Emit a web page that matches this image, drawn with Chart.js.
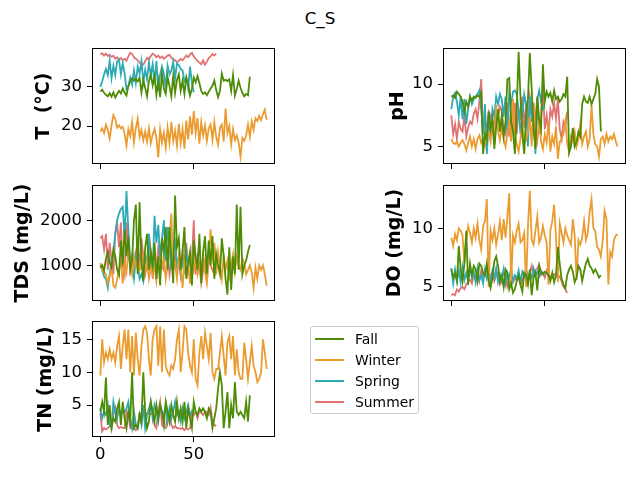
<!DOCTYPE html>
<html>
<head>
<meta charset="utf-8">
<script src="https://cdn.jsdelivr.net/npm/chart.js@4/dist/chart.umd.min.js"></script>
<style>
  body { margin: 0; width: 640px; height: 480px; background: #fff; position: relative; overflow: hidden; font-family: 'DejaVu Sans', sans-serif; }
  canvas { position: absolute; left: 0; top: 0; }
  #title { position: absolute; left: 0; top: 8px; width: 640px; text-align: center; font-size: 16.7px; line-height: 20px; color: #000; }
  #legend { position: absolute; left: 310px; top: 326px; width: 107px; height: 86px; border: 1px solid #cccccc; border-radius: 3px; background: rgba(255,255,255,0.8); }
  .item { position: absolute; left: 0; height: 20px; font-size: 13.9px; line-height: 20px; color: #000; }
  .item span.sw { position: absolute; left: 4px; top: 9px; width: 29px; height: 2px; }
  .item span.tx { position: absolute; left: 44px; top: 0; white-space: nowrap; }
</style>
</head>
<body>
<div id="title">C_S</div>
<canvas id="cT" width="640" height="480"></canvas>
<canvas id="cPH" width="640" height="480"></canvas>
<canvas id="cTDS" width="640" height="480"></canvas>
<canvas id="cDO" width="640" height="480"></canvas>
<canvas id="cTN" width="640" height="480"></canvas>
<div id="legend"></div>
<script>
// seasons and x ticks
const seasons = ['Fall', 'Winter', 'Spring', 'Summer'];
const xTicks = [0, 50];

// T (°C)
const tFall = [28.8, 29.3, 28.5, 28.0, 27.6, 28.4, 27.5, 28.6, 27.3, 28.2, 29.0, 28.3, 29.6, 28.5, 27.8,
  30.2, 31.5, 32.2, 31.6, 32.0, 31.4, 32.3, 28.6, 31.8, 29.8, 27.6,
  31.5, 33.2, 30.4, 32.8, 28.0, 31.6, 27.4, 33.4, 29.5, 28.2, 32.5, 30.2, 27.6, 32.8, 28.5,
  31.8, 33.2, 29.0, 31.5, 28.2, 32.5, 30.8, 27.8, 29.5, 32.4, 31.2, 32.8, 31.0, 29.0, 28.2,
  28.6, 27.9, 28.8, 29.6, 30.3, 31.6, 29.2, 27.4, 29.0, 33.4, 31.6,
  31.8, 31.5, 31.9, 29.0, 33.0, 27.8, 29.5, 31.6, 29.8, 28.5, 27.6, 28.2, 27.9, 32.6];
const tWinter = [18.6, 19.4, 18.2, 20.3, 19.0, 16.8, 20.2, 22.8, 21.8, 19.6,
  20.2, 19.4, 19.8, 18.0, 15.0, 19.2, 17.4, 21.0, 15.8, 19.5,
  21.9, 17.2, 19.0, 16.3, 18.6, 16.0, 19.4, 15.6, 17.8, 19.3,
  17.0, 12.0, 19.2, 15.8, 18.3, 14.5, 19.6, 15.6, 21.0, 16.2,
  18.8, 15.0, 20.6, 15.6, 19.3, 14.2, 21.4, 16.6, 22.5, 17.8,
  23.8, 18.2, 22.0, 15.5, 21.0, 17.6, 20.2, 16.2, 19.4, 20.4,
  16.5, 21.0, 17.2, 15.2, 19.6, 20.4, 16.0, 24.5, 18.2, 20.0,
  15.3, 19.2, 16.4, 17.6, 15.8, 12.2, 17.0, 16.2, 17.6, 20.4,
  17.2, 21.2, 19.0, 22.0, 21.3, 22.6, 21.5, 23.0, 24.2, 21.6];
const tSpring = [30.0, 31.4, 33.2, 34.6, 33.0, 36.8, 32.2, 35.4, 33.0, 36.6,
  37.0, 33.2, 36.0, 33.4, 29.4, 30.2, 32.4, 30.6, 34.2, 31.0,
  35.2, 33.4, 36.6, 31.2, 34.4, 32.0, 36.2, 33.0, 35.8, 30.8,
  36.6, 29.0, 33.2, 35.2, 33.4, 30.0, 35.4, 33.2, 34.2, 36.4,
  32.2, 36.0, 35.6, 34.6, 34.2, 31.4, 32.2, 29.6, 35.2, 31.0, 28.6];
const tSummer = [38.4, 38.6, 38.0, 38.5, 37.9, 38.2, 37.7, 38.0, 37.2, 37.6,
  37.0, 37.4, 36.8, 37.2, 36.7, 37.8, 38.7, 38.4, 37.6, 37.2,
  36.8, 36.2, 35.8, 35.7, 36.6, 37.4, 37.0, 37.9, 38.5, 38.2,
  37.6, 38.0, 37.4, 37.8, 37.2, 37.6, 38.0, 38.2, 37.5, 37.0,
  36.8, 36.4, 36.6, 37.2, 36.8, 37.4, 38.0, 37.6, 38.3, 38.7,
  37.8, 37.2, 36.6, 36.2, 35.8, 36.8, 35.7, 36.4, 37.4, 37.8,
  38.4, 38.0, 38.5];
const tTicks = [20, 30];

// pH
const phFall = [9.0, 9.1, 8.9, 9.4, 9.2, 9.0, 8.6, 7.8, 8.6, 8.2,
  9.0, 8.7, 9.0, 8.9, 9.1, 9.0, 9.3, 4.4, 6.0, 5.5,
  7.8, 6.4, 7.2, 4.8, 6.6, 8.0, 6.2, 7.5, 5.8, 7.0,
  10.4, 10.5, 7.0, 6.2, 4.4, 8.0, 12.6, 9.0, 6.0, 4.4,
  7.5, 8.8, 12.5, 9.6, 6.4, 4.8, 9.0, 7.2, 6.4, 11.6,
  8.6, 9.4, 9.0, 9.3, 8.6, 9.5, 8.8, 9.0, 8.6, 8.8,
  9.2, 9.0, 10.6, 4.5, 5.0, 6.5, 5.0, 5.4, 6.2, 5.8,
  8.4, 9.0, 8.6, 8.5, 9.0, 8.4, 8.8, 9.2, 10.4, 9.8, 6.2];
const phWinter = [5.6, 5.3, 5.2, 5.4, 5.0, 5.3, 5.5, 5.2, 4.7, 5.3,
  5.8, 5.0, 5.6, 4.8, 5.6, 5.9, 5.3, 5.6, 5.1, 5.8,
  6.2, 5.4, 7.0, 5.2, 8.3, 6.2, 5.5, 6.6, 5.6, 5.0,
  6.0, 7.0, 5.4, 8.8, 6.0, 5.2, 4.6, 5.6, 6.8, 5.2,
  5.5, 6.2, 7.4, 5.0, 8.5, 6.2, 5.4, 7.2, 5.4, 4.8,
  6.0, 5.3, 7.0, 4.6, 5.8, 5.2, 6.6, 4.0, 5.4, 5.6,
  6.0, 7.0, 5.2, 4.6, 5.8, 5.4, 6.2, 5.0, 5.6, 6.8,
  5.2, 5.8, 6.2, 5.0, 5.6, 8.3, 6.0, 5.2, 5.0, 4.2,
  5.6, 5.8, 5.2, 6.0, 5.4, 5.8, 5.6, 6.0, 5.4, 5.0];
const phSpring = [8.0, 9.0, 9.3, 8.6, 7.5, 9.0, 7.2, 8.8, 6.8, 8.0,
  9.0, 8.4, 8.8, 9.0, 9.2, 9.5, 8.0, 6.0, 8.4, 4.4,
  7.0, 5.8, 8.0, 7.4, 9.0, 8.4, 9.2, 8.8, 7.4, 9.0,
  6.0, 9.3, 8.4, 9.4, 9.5, 9.2, 8.0, 6.0, 7.5, 9.2,
  8.4, 5.0, 9.0, 7.0, 8.5, 4.4, 8.8, 9.5, 8.6, 8.0, 8.2];
const phSummer = [7.5, 6.0, 6.8, 5.6, 7.0, 6.4, 6.2, 7.5, 5.8, 6.5,
  7.0, 6.8, 7.6, 8.0, 7.2, 8.6, 10.4, 6.0, 7.0, 6.4,
  7.8, 7.5, 6.4, 7.0, 8.0, 7.4, 8.2, 7.8, 6.4, 6.0,
  8.5, 5.8, 7.5, 6.2, 8.5, 6.0, 8.0, 7.4, 9.0, 6.5,
  8.5, 7.0, 9.0, 8.0, 6.5, 7.4, 8.8, 6.0, 7.2, 9.8,
  6.4, 7.5, 6.0, 8.0, 7.4, 8.5, 7.2, 8.8, 6.4, 5.6,
  7.0, 6.6, 7.8];
const phTicks = [5, 10];

// TDS (mg/L)
const tdsFall = [950, 1000, 880, 1150, 1300, 1050, 950, 1350, 1200, 900,
  780, 1550, 1000, 1800, 1200, 1650, 900, 1100, 2000, 2350,
  800, 2400, 1100, 650, 1400, 1700, 900, 1300, 1000, 1500,
  700, 1200, 550, 1600, 1300, 1850, 900, 1850, 1200, 600,
  2550, 1400, 1600, 900, 1300, 1850, 700, 1050, 1300, 550,
  1550, 1200, 900, 1700, 600, 1300, 1650, 800, 1550, 1000,
  1650, 700, 1250, 1000, 800, 1600, 1200, 700, 350, 1400,
  450, 1200, 800, 2350, 900, 2300, 800, 1000, 1100, 1300, 1450];
const tdsWinter = [1050, 900, 850, 800, 600, 750, 950, 550, 500, 700,
  900, 1100, 600, 1050, 850, 1300, 1000, 800, 1200, 950,
  1150, 900, 1000, 1200, 850, 1100, 700, 950, 800, 1000,
  650, 1100, 850, 950, 1200, 700, 1000, 1600, 2150, 900,
  1050, 700, 1200, 950, 500, 1100, 800, 1000, 600, 1250,
  900, 1150, 800, 1000, 700, 1250, 850, 600, 1100, 1800,
  1200, 1500, 800, 1300, 1000, 700, 1200, 900, 1100, 750,
  1000, 1250, 850, 1200, 1000, 900, 1150, 1050, 800, 900,
  1000, 850, 500, 950, 700, 1000, 900, 1000, 800, 550];
const tdsSpring = [1000, 900, 750, 700, 500, 800, 1100, 1300, 1700, 2000,
  2150, 2250, 2300, 1600, 2650, 1800, 1100, 1000, 700, 1200,
  1050, 700, 800, 650, 1200, 1000, 1700, 1100, 800, 2100,
  1500, 1900, 1200, 1600, 2000, 1100, 1850, 1400, 900, 1300,
  1500, 1000, 1200, 800, 1100, 900, 1300, 1000, 1200, 950, 1000];
const tdsSummer = [1600, 1650, 1350, 1700, 900, 1500, 1100, 800, 1700, 1950,
  1400, 1950, 1000, 800, 1950, 1500, 900, 1200, 1000, 1300,
  1500, 900, 1600, 1200, 800, 1000, 1700, 1300, 700, 1100,
  900, 1400, 1100, 1000, 900, 1500, 1300, 800, 1100, 1000,
  1200, 900, 1100, 800, 1300, 1000, 1500, 900, 1200, 1100,
  2000, 800, 1200, 1000, 600, 900, 1100, 700, 1200, 1000,
  900, 800, 1100];
const tdsTicks = [1000, 2000];

// DO (mg/L)
const doFall = [6.5, 5.8, 6.2, 5.5, 8.5, 6.5, 5.5, 7.0, 9.8, 5.2,
  7.0, 6.0, 6.8, 6.5, 5.5, 7.0, 6.8, 6.2, 6.0, 7.0,
  5.5, 4.9, 5.8, 7.2, 7.6, 6.8, 5.5, 6.0, 5.0, 6.5,
  6.2, 4.8, 5.3, 4.5, 4.8, 5.5, 6.0, 5.2, 4.6, 6.2,
  6.0, 5.2, 6.5, 4.3, 5.8, 6.2, 4.7, 6.8, 6.2, 6.1,
  6.3, 6.2, 6.0, 5.5, 6.2, 5.4, 6.0, 8.4, 7.0, 5.7,
  5.2, 4.9, 6.0, 6.5, 6.8, 6.3, 5.4, 5.8, 6.8, 6.5,
  5.5, 6.3, 7.0, 7.4, 6.8, 6.6, 6.2, 6.5, 6.2, 5.8, 6.0];
const doWinter = [9.2, 8.5, 9.5, 9.0, 10.0, 9.8, 9.4, 7.0, 9.0, 10.2,
  9.6, 8.8, 10.0, 9.2, 10.4, 9.0, 8.2, 10.2, 10.6, 12.5,
  5.0, 9.8, 9.0, 10.0, 8.6, 9.5, 10.6, 9.0, 10.8, 9.2,
  11.0, 13.0, 5.2, 9.4, 8.8, 9.8, 10.4, 8.8, 9.0, 9.6,
  5.0, 10.2, 13.2, 9.0, 8.6, 9.8, 11.0, 8.8, 9.2, 10.2,
  9.4, 8.8, 5.2, 9.8, 10.6, 12.0, 9.2, 5.4, 10.4, 9.6,
  8.8, 10.0, 9.4, 9.0, 8.6, 10.8, 9.4, 5.6, 9.0, 8.6,
  9.2, 10.6, 9.0, 9.6, 11.4, 12.5, 10.0, 9.8, 8.4, 8.2,
  7.6, 9.0, 11.5, 10.8, 5.2, 8.0, 7.6, 9.0, 9.4, 9.5];
const doSpring = [6.6, 5.3, 6.5, 5.5, 6.4, 5.4, 6.7, 5.6, 6.2, 5.5,
  6.7, 5.8, 6.3, 5.4, 6.6, 5.6, 6.0, 5.3, 6.5, 5.7,
  6.2, 5.5, 6.4, 5.8, 6.6, 5.4, 6.1, 5.6, 6.5, 5.3,
  6.2, 5.8, 6.6, 5.5, 6.0, 5.7, 6.4, 5.4, 6.3, 5.9,
  6.5, 5.6, 6.2, 5.8, 6.6, 6.0, 6.3, 5.9, 6.4, 6.1, 6.0];
const doSummer = [4.3, 4.4, 4.3, 4.8, 4.6, 4.9, 5.0, 4.8, 5.2, 5.5,
  5.6, 5.3, 6.0, 5.8, 6.2, 5.5, 6.4, 5.9, 6.2, 6.5,
  5.8, 6.0, 6.3, 5.5, 6.0, 6.2, 5.2, 5.5, 5.1, 6.0,
  5.0, 5.5, 5.2, 5.4, 5.7, 5.6, 5.8, 5.2, 5.6, 6.0,
  6.5, 5.8, 6.2, 6.8, 6.0, 6.4, 6.6, 6.9, 6.0, 6.2,
  5.8, 6.4, 6.0, 5.9, 5.8, 6.1, 5.9, 5.8, 5.9, 5.5,
  5.0, 4.8, 4.5];
const doTicks = [5, 10];

// TN (mg/L)
const tnFall = [4.0, 5.5, 4.0, 9.2, 2.0, 5.0, 1.5, 3.0, 2.5, 4.5,
  5.5, 2.0, 5.5, 3.0, 1.5, 4.0, 2.5, 10.0, 1.5, 2.0,
  1.5, 3.5, 2.5, 10.0, 4.0, 1.5, 2.5, 5.5, 4.0, 2.5,
  5.0, 3.0, 5.0, 4.0, 2.0, 5.5, 4.0, 2.5, 5.0, 3.5,
  2.5, 5.5, 3.0, 4.5, 2.5, 5.5, 1.5, 4.5, 3.0, 1.5,
  5.5, 4.0, 3.5, 4.5, 4.0, 4.5, 4.0, 3.0, 4.5, 4.0,
  1.5, 3.0, 4.5, 7.5, 10.0, 8.0, 1.5, 4.0, 7.0, 1.5,
  5.0, 3.0, 8.5, 4.0, 3.5, 4.0, 3.5, 3.0, 5.5, 2.5, 6.5];
const tnWinter = [9.5, 15.0, 11.5, 13.0, 12.0, 13.5, 12.0, 13.0, 11.5, 14.0,
  15.5, 10.5, 14.0, 16.5, 12.0, 16.5, 10.0, 15.5, 9.5, 16.0,
  12.0, 9.5, 14.0, 16.5, 17.0, 16.0, 12.0, 9.5, 15.0, 16.5,
  17.0, 11.0, 17.0, 10.0, 16.5, 11.0, 10.0, 9.5, 11.0, 10.5,
  12.0, 15.0, 16.5, 10.0, 13.0, 17.0, 16.5, 13.0, 11.0, 10.0,
  15.0, 9.0, 8.0, 13.0, 15.5, 12.0, 16.0, 14.0, 12.0, 16.0,
  10.0, 9.0, 10.5, 10.5, 13.0, 15.5, 12.5, 9.5, 14.5, 15.5,
  12.0, 15.5, 9.5, 13.5, 10.0, 9.0, 9.0, 14.5, 12.0, 9.0,
  11.5, 14.0, 11.0, 10.0, 8.5, 9.0, 10.0, 15.0, 13.0, 10.5];
const tnSpring = [4.5, 3.0, 4.0, 3.5, 5.0, 2.0, 1.5, 5.5, 4.0, 3.0,
  4.5, 3.5, 4.3, 4.0, 4.5, 5.5, 3.0, 1.5, 4.0, 2.0,
  1.5, 3.5, 2.0, 5.0, 1.5, 3.5, 4.5, 5.5, 3.0, 5.0,
  4.0, 2.5, 5.0, 4.0, 3.5, 5.0, 2.5, 4.5, 3.0, 4.0,
  5.5, 3.5, 4.0, 2.5, 4.5, 3.0, 4.0, 5.0, 3.5, 4.0, 4.2];
const tnSummer = [3.8, 1.0, 1.5, 1.3, 1.5, 1.8, 2.0, 3.5, 4.5, 2.0,
  1.5, 1.7, 1.5, 1.5, 4.0, 3.5, 1.5, 1.4, 1.5, 1.2,
  1.5, 3.8, 3.7, 3.5, 3.5, 3.8, 3.7, 3.6, 3.8, 2.0,
  1.5, 4.0, 5.5, 2.0, 1.6, 1.5, 3.5, 3.8, 2.0, 1.5,
  1.8, 1.5, 1.5, 1.4, 1.5, 1.2, 1.5, 1.3, 1.5, 4.0,
  3.5, 4.0, 3.0, 4.2, 3.8, 3.5, 4.0, 3.9, 3.5, 4.6,
  2.5, 2.0, 1.8];
const tnTicks = [5, 10, 15];

const colors = ['#4e8c05', '#eb9c31', '#2eaab5', '#e17272'];
const FONT = "'DejaVu Sans', sans-serif";

// panel boxes: [left, top, right, bottom], titleX = centre of the y label
const panels = [
  { id: 'cT', label: 'T  (°C)', series: [tFall, tWinter, tSpring, tSummer], ticks: tTicks,
    yMin: 10.3, yMax: 39.95, box: [92, 48, 275, 164], titleX: 44, xLabels: false },
  { id: 'cPH', label: 'pH', series: [phFall, phWinter, phSpring, phSummer], ticks: phTicks,
    yMin: 3.6, yMax: 12.9, box: [443, 48, 626, 164], titleX: 398, xLabels: false },
  { id: 'cTDS', label: 'TDS (mg/L)', series: [tdsFall, tdsWinter, tdsSpring, tdsSummer], ticks: tdsTicks,
    yMin: 207, yMax: 2784, box: [92, 185, 275, 301], titleX: 23, xLabels: false },
  { id: 'cDO', label: 'DO (mg/L)', series: [doFall, doWinter, doSpring, doSummer], ticks: doTicks,
    yMin: 3.8, yMax: 13.7, box: [443, 185, 626, 301], titleX: 395, xLabels: false },
  { id: 'cTN', label: 'TN (mg/L)', series: [tnFall, tnWinter, tnSpring, tnSummer], ticks: tnTicks,
    yMin: 0.15, yMax: 17.8, box: [92, 321, 275, 437], titleX: 46, xLabels: true }
];

const framePlugin = {
  id: 'frame',
  afterDraw(chart) {
    const { ctx, chartArea: a } = chart;
    ctx.save();
    ctx.strokeStyle = '#000';
    ctx.lineWidth = 1;
    ctx.strokeRect(Math.round(a.left) + 0.5, Math.round(a.top) + 0.5,
      Math.round(a.right - a.left) - 1, Math.round(a.bottom - a.top) - 1);
    ctx.restore();
  }
};

const TITLE_SIZE = 19;
const TITLE_LH = 1.2;

panels.forEach(p => {
  const [bl, bt, br, bb] = p.box;
  const padLeft = p.titleX - TITLE_SIZE * TITLE_LH / 2;
  const yWidth = bl - padLeft;
  // labels are clipped to the scale box, so the labelled axis needs room for them
  const xHeight = p.xLabels ? 36 : 5;

  new Chart(document.getElementById(p.id), {
    type: 'line',
    data: {
      datasets: p.series.map((arr, k) => ({
        label: seasons[k],
        data: arr.map((v, i) => ({ x: i, y: v })),
        borderColor: colors[k],
        borderWidth: 1.8,
        pointRadius: 0,
        tension: 0,
        fill: false
      }))
    },
    options: {
      responsive: false,
      animation: false,
      layout: { padding: { left: padLeft, top: bt, right: 640 - br, bottom: 480 - bb - xHeight } },
      plugins: { legend: { display: false }, tooltip: { enabled: false } },
      scales: {
        x: {
          type: 'linear',
          min: -4.45,
          max: 93.45,
          afterBuildTicks: s => { s.ticks = xTicks.map(v => ({ value: v })); },
          afterFit: s => { s.height = xHeight; },
          border: { display: false },
          grid: { drawOnChartArea: false, drawTicks: true, tickLength: 5, color: '#000', lineWidth: 1 },
          ticks: {
            display: p.xLabels,
            padding: 3,
            color: '#000',
            maxRotation: 0,
            autoSkip: false,
            font: { family: FONT, size: 16.5 },
            callback: v => String(v)
          }
        },
        y: {
          type: 'linear',
          min: p.yMin,
          max: p.yMax,
          afterBuildTicks: s => { s.ticks = p.ticks.map(v => ({ value: v })); },
          afterFit: s => { s.width = yWidth; },
          border: { display: false },
          grid: { drawOnChartArea: false, drawTicks: true, tickLength: 5, color: '#000', lineWidth: 1 },
          ticks: {
            padding: 5,
            color: '#000',
            font: { family: FONT, size: 16.5 },
            callback: v => String(v)
          },
          title: {
            display: true,
            text: p.label,
            color: '#000',
            padding: { top: 0, bottom: 0 },
            font: { family: FONT, size: TITLE_SIZE, weight: 'bold', lineHeight: TITLE_LH }
          }
        }
      }
    },
    plugins: [framePlugin]
  });
});

// legend
const legend = document.getElementById('legend');
seasons.forEach((name, k) => {
  const row = document.createElement('div');
  row.className = 'item';
  row.style.top = (2 + k * 20.9) + 'px';
  row.innerHTML = '<span class="sw" style="background:' + colors[k] + '"></span><span class="tx">' + name + '</span>';
  legend.appendChild(row);
});
</script>
</body>
</html>
